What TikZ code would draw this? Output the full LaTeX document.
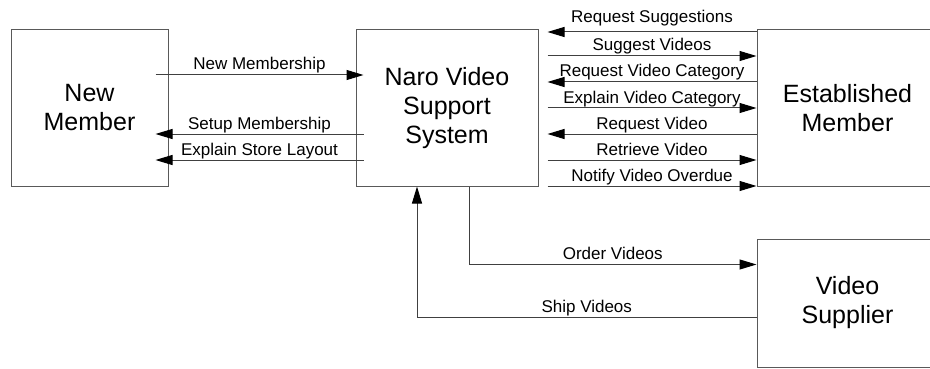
\documentclass[tikz,border=0pt]{standalone}
\usepackage{fontspec}
\setmainfont{Liberation Sans}
\usetikzlibrary{arrows.meta}

\tikzset{
  entity/.style={draw=black!65, line width=1pt, align=center, inner sep=0pt,
    font=\fontsize{25}{29}\selectfont},
  flow/.style={draw=black!75, line width=1pt,
    -{Triangle[length=17pt, width=10pt, color=black]}},
  lbl/.style={font=\fontsize{17}{20}\selectfont, anchor=base, yshift=5pt, inner sep=0pt}
}

\begin{document}
\begin{tikzpicture}[x=1pt, y=-1pt]
        \clip (0, 0) rectangle (930, 369);

        \node[entity, minimum width=157pt, minimum height=156pt] (newm) at (89.5, 108) {New\\Member};
        \node[entity, minimum width=182pt, minimum height=156pt] (naro) at (447, 108) {Naro Video\\Support\\System};
        \node[entity, minimum width=181pt, minimum height=156pt] (estm) at (847.5, 108) {Established\\Member};
        \node[entity, minimum width=181pt, minimum height=128pt] (vsup) at (847.5, 303) {Video\\Supplier};

        % new member <-> system
        \draw[flow] ([xshift=-13pt, yshift=33pt]newm.east) -- node[lbl] {New Membership} ([xshift=8pt, yshift=33pt]naro.west);
        \draw[flow] ([xshift=8pt, yshift=-26pt]naro.west) -- node[lbl] {Setup Membership} ([xshift=-13pt, yshift=-26pt]newm.east);
        \draw[flow] ([xshift=8pt, yshift=-52pt]naro.west) -- node[lbl] {Explain Store Layout} ([xshift=-13pt, yshift=-52pt]newm.east);

        % established member <-> system
        \draw[flow] ([yshift=76pt]estm.west) -- node[lbl, yshift=4pt] {Request Suggestions} ([xshift=9pt, yshift=76pt]naro.east);
        \draw[flow] ([xshift=9pt, yshift=52pt]naro.east) -- node[lbl] {Suggest Videos} ([yshift=52pt]estm.west);
        \draw[flow] ([yshift=26pt]estm.west) -- node[lbl] {Request Video Category} ([xshift=9pt, yshift=26pt]naro.east);
        \draw[flow] ([xshift=9pt]naro.east) -- node[lbl] {Explain Video Category} (estm.west);
        \draw[flow] ([yshift=-26pt]estm.west) -- node[lbl] {Request Video} ([xshift=9pt, yshift=-26pt]naro.east);
        \draw[flow] ([xshift=9pt, yshift=-52pt]naro.east) -- node[lbl] {Retrieve Video} ([yshift=-52pt]estm.west);
        \draw[flow] ([xshift=9pt, yshift=-78pt]naro.east) -- node[lbl] {Notify Video Overdue} ([yshift=-78pt]estm.west);

        % supplier
        \draw[flow] ([xshift=22pt]naro.south) |- node[lbl, pos=0.75] {Order Videos} ([yshift=38.5pt]vsup.west);
        \draw[flow] ([yshift=-14pt]vsup.west) -| node[lbl, pos=0.25] {Ship Videos} ([xshift=-30pt]naro.south);
        \end{tikzpicture}
\end{document}
